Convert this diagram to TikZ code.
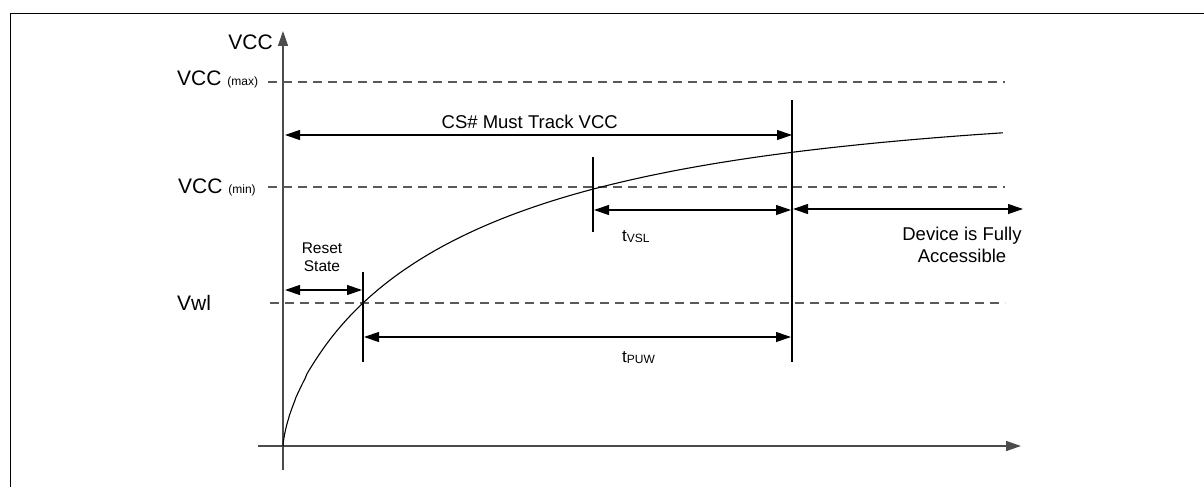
\documentclass[tikz,border=0pt]{standalone}
\usepackage{fontspec}
\setmainfont{Liberation Sans}
\usetikzlibrary{arrows.meta}
\begin{document}
\begin{tikzpicture}[x=1pt,y=-1pt,
  frameline/.style={draw=black, line width=1.2pt},
  axis/.style={draw=black!70, line width=1.4pt},
  guide/.style={draw=black!65, line width=1.3pt, dash pattern=on 9pt off 6pt},
  marker/.style={draw=black, line width=1.1pt},
  tip/.tip={Triangle[length=15pt,width=10pt]},
  dim/.style={draw=black, line width=1.2pt, tip-tip},
  lbl/.style={inner sep=0pt, font=\fontsize{21}{25}\selectfont},
  midlbl/.style={inner sep=0pt, font=\fontsize{18.5}{22}\selectfont},
  smalllbl/.style={inner sep=0pt, font=\fontsize{15.5}{18}\selectfont},
  tlbl/.style={inner sep=0pt, font=\fontsize{17}{20}\selectfont}]
\useasboundingbox (0,0) rectangle (1204,487);
% frame
\coordinate (fbl) at (10.5,487);
\coordinate (ftl) at (10.5,13.5);
\coordinate (ftr) at (1204,13.5);
\draw[frameline] (fbl) -- (ftl) -- (ftr);
% axes
\coordinate (ybot) at (283,470);
\coordinate (ytop) at (283,31);
\coordinate (xl) at (258,446);
\coordinate (xr) at (1021,446);
\draw[axis, -tip] (ybot) -- (ytop);
\draw[axis, -tip] (xl) -- (xr);
% dashed levels
\coordinate (maxl) at (268,82);  \coordinate (maxr) at (1005,82);
\coordinate (minl) at (268,187); \coordinate (minr) at (1005,187);
\coordinate (vwll) at (270,303); \coordinate (vwlr) at (1005,303);
\draw[guide] (maxl) -- (maxr);
\draw[guide] (minl) -- (minr);
\draw[guide] (vwll) -- (vwlr);
% vertical markers
\coordinate (r1) at (363,272); \coordinate (r2) at (363,362);
\coordinate (s1) at (593,157); \coordinate (s2) at (593,232);
\coordinate (p1) at (792,100); \coordinate (p2) at (792,362);
\draw[marker] (r1) -- (r2);
\draw[marker] (s1) -- (s2);
\draw[marker] (p1) -- (p2);
% curve
\coordinate (c0) at (283,446);
\draw[line width=1.1pt] (c0) -- plot[variable=\s, domain=0.01:26.833, samples=160, smooth]
  ({283+\s*\s},{446-340*(1-exp(-((\s*\s/190)^0.7)))});
% dimension arrows
\coordinate (csl) at (285,135); \coordinate (csr) at (792,135);
\coordinate (rsl) at (285,290); \coordinate (rsr) at (362,290);
\coordinate (pul) at (364,337); \coordinate (pur) at (791,337);
\coordinate (vsl) at (594,210); \coordinate (vsr) at (791,210);
\coordinate (dvl) at (793,209); \coordinate (dvr) at (1023,209);
\draw[dim] (csl) -- (csr);
\draw[dim] (rsl) -- (rsr);
\draw[dim] (pul) -- (pur);
\draw[dim] (vsl) -- (vsr);
\draw[dim] (dvl) -- (dvr);
% labels
\node[lbl, anchor=base east] (vccax) at (273,50) {VCC};
\node[lbl, anchor=base west] (vccmax) at (177,85) {VCC {\fontsize{12}{14}\selectfont (max)}};
\node[lbl, anchor=base west] (vccmin) at (178,193) {VCC {\fontsize{12}{14}\selectfont (min)}};
\node[lbl, anchor=base west] (vwl) at (177,310) {Vwl};
\node[midlbl, anchor=base east] (cs) at (618,128) {CS\# Must Track VCC};
\node[smalllbl, anchor=base] (reset1) at (322,253) {Reset};
\node[smalllbl, anchor=base] (reset2) at (322,271) {State};
\node[midlbl, anchor=base] (dev1) at (962,240) {Device is Fully};
\node[midlbl, anchor=base] (dev2) at (962,262) {Accessible};
\node[tlbl, anchor=base west] (tvsl) at (622,241) {t\raisebox{-1.5pt}{\fontsize{12}{14}\selectfont VSL}};
\node[tlbl, anchor=base west] (tpuw) at (622,362) {t\raisebox{-1.5pt}{\fontsize{12}{14}\selectfont PUW}};
\end{tikzpicture}
\end{document}
